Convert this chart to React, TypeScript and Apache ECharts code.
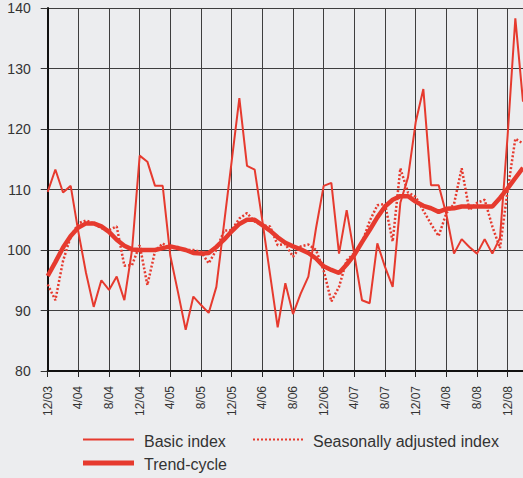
import React, { useEffect, useRef } from "react";
import * as echarts from "echarts";

const months = [
  "12/03", "1/04", "2/04", "3/04", "4/04", "5/04", "6/04", "7/04", "8/04", "9/04", "10/04", "11/04",
  "12/04", "1/05", "2/05", "3/05", "4/05", "5/05", "6/05", "7/05", "8/05", "9/05", "10/05", "11/05",
  "12/05", "1/06", "2/06", "3/06", "4/06", "5/06", "6/06", "7/06", "8/06", "9/06", "10/06", "11/06",
  "12/06", "1/07", "2/07", "3/07", "4/07", "5/07", "6/07", "7/07", "8/07", "9/07", "10/07", "11/07",
  "12/07", "1/08", "2/08", "3/08", "4/08", "5/08", "6/08", "7/08", "8/08", "9/08", "10/08", "11/08",
  "12/08", "1/09", "2/09",
];

const basicIndex = [
  109.6, 113.3, 109.5, 110.6, 103.0, 96.2, 90.6, 95.0, 93.4, 95.6, 91.7, 100.0,
  115.6, 114.6, 110.6, 110.6, 99.0, 93.0, 86.8, 92.3, 90.9, 89.6, 93.9, 104.3,
  114.7, 125.1, 113.9, 113.3, 104.8, 96.0, 87.2, 94.5, 89.4, 92.8, 95.6, 103.6,
  110.6, 111.1, 99.4, 106.6, 99.2, 91.7, 91.2, 101.1, 97.2, 93.9, 107.8, 112.0,
  121.1, 126.6, 110.7, 110.7, 105.9, 99.4, 101.8, 100.5, 99.4, 101.8, 99.4, 102.0,
  119.0, 138.3, 124.5,
];

const seasonallyAdjusted = [
  94.3, 91.7, 98.2, 102.2, 104.4, 104.9, 104.4, 103.6, 103.3, 103.9, 97.4, 97.5,
  100.8, 94.2, 99.8, 101.1, 100.2, 100.5, 100.0, 100.0, 99.7, 97.8, 100.0, 103.2,
  103.3, 105.2, 106.1, 104.7, 104.1, 103.9, 100.8, 101.0, 98.9, 100.6, 100.9, 100.0,
  96.6, 91.5, 93.9, 98.3, 99.5, 101.2, 104.8, 107.4, 107.6, 101.4, 113.5, 109.5,
  108.8, 106.5, 104.3, 102.3, 106.1, 107.6, 113.5, 106.6, 107.8, 108.3, 103.9, 100.3,
  109.9, 118.4, 117.6,
];

const trendCycle = [
  95.7, 98.0, 100.4, 102.3, 103.7, 104.4, 104.4, 103.9, 103.0, 101.7, 100.7, 100.1,
  100.0, 100.0, 100.0, 100.3, 100.6, 100.3, 100.0, 99.5, 99.4, 99.5, 100.5, 101.7,
  103.1, 104.3, 105.0, 105.0, 104.1, 103.2, 102.1, 101.2, 100.6, 100.1, 99.5, 98.6,
  97.3, 96.7, 96.2, 97.6, 99.2, 101.3, 103.3, 105.4, 107.2, 108.3, 108.9, 108.9,
  108.0, 107.3, 106.9, 106.3, 106.8, 106.9, 107.2, 107.2, 107.2, 107.2, 107.2, 108.6,
  110.2, 111.9, 113.6,
];

const seriesNames = ["Basic index", "Seasonally adjusted index", "Trend-cycle"];

const RED = "#e63a2e";
const GRID = "#3e3e3e";
const FONT = "'Liberation Sans', Arial, sans-serif";

export default function App() {
  const ref = useRef<HTMLDivElement>(null);

  useEffect(() => {
    if (!ref.current) return;
    const chart = echarts.init(ref.current, null, { renderer: "svg" });
    chart.setOption({
      animation: false,
      backgroundColor: "#ecedef",
      textStyle: { fontFamily: FONT },
      grid: { left: 47.7, top: 8, width: 476.2, height: 363 },
      xAxis: {
        type: "category",
        data: months,
        boundaryGap: false,
        axisLine: { show: true, lineStyle: { color: "#111", width: 2 } },
        axisTick: { show: true, interval: 3, length: 6, lineStyle: { color: "#222", width: 1 } },
        axisLabel: {
          interval: 3,
          rotate: 90,
          fontSize: 12,
          color: "#333",
          margin: 15,
          fontFamily: FONT,
        },
        splitLine: { show: true, interval: 3, lineStyle: { color: GRID, width: 1 } },
      },
      yAxis: {
        type: "value",
        min: 80,
        max: 140,
        interval: 10,
        axisLine: { show: true, lineStyle: { color: "#111", width: 2 } },
        axisTick: { show: true, length: 7, lineStyle: { color: "#333", width: 1 } },
        axisLabel: { fontSize: 14, color: "#333", margin: 17, fontFamily: FONT },
        splitLine: { show: true, lineStyle: { color: GRID, width: 1 } },
      },
      series: [
        {
          name: seriesNames[0],
          type: "line",
          data: basicIndex,
          showSymbol: false,
          symbol: "none",
          lineStyle: { color: RED, width: 2 },
          z: 2,
        },
        {
          name: seriesNames[1],
          type: "line",
          data: seasonallyAdjusted,
          showSymbol: false,
          symbol: "none",
          lineStyle: { color: RED, width: 2.5, type: [2, 2] },
          z: 3,
        },
        {
          name: seriesNames[2],
          type: "line",
          data: trendCycle,
          showSymbol: false,
          symbol: "none",
          lineStyle: { color: RED, width: 4.5 },
          z: 4,
        },
      ],
      graphic: [
        { type: "line", shape: { x1: 83, y1: 439.5, x2: 134, y2: 439.5 }, style: { stroke: RED, lineWidth: 2 } },
        { type: "text", x: 144, y: 441, style: { text: seriesNames[0], fill: "#333", font: `16px ${FONT}`, verticalAlign: "middle" } },
        { type: "line", shape: { x1: 253, y1: 439.5, x2: 304, y2: 439.5 }, style: { stroke: RED, lineWidth: 2, lineDash: [2, 2] } },
        { type: "text", x: 313, y: 441, style: { text: seriesNames[1], fill: "#333", font: `16px ${FONT}`, verticalAlign: "middle" } },
        { type: "line", shape: { x1: 83, y1: 463, x2: 134, y2: 463 }, style: { stroke: RED, lineWidth: 5 } },
        { type: "text", x: 144, y: 464.5, style: { text: seriesNames[2], fill: "#333", font: `16px ${FONT}`, verticalAlign: "middle" } },
      ],
    });
    return () => chart.dispose();
  }, []);

  return (
    <div
      ref={ref}
      style={{ position: "absolute", left: 0, top: 0, width: 523, height: 478 }}
    />
  );
}
